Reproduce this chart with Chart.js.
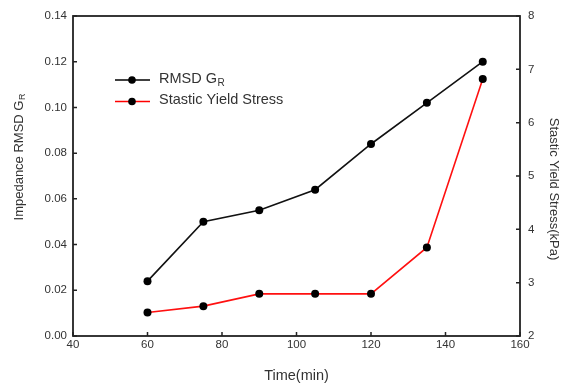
<!DOCTYPE html>
<html>
<head>
<meta charset="utf-8">
<script src="https://cdn.jsdelivr.net/npm/chart.js@4"></script>
<style>
  html, body { margin: 0; padding: 0; background: #fff; }
  #wrap { width: 565px; height: 385px; }
</style>
</head>
<body>
<div id="wrap"><canvas id="chart"></canvas></div>
<script>
// measurements, time in minutes
const times = [60, 75, 90, 105, 120, 135, 150];
const rmsdGR = [0.024, 0.050, 0.055, 0.064, 0.084, 0.102, 0.120];
const yieldStress = [2.44, 2.56, 2.79, 2.79, 2.79, 3.66, 6.82];

const FONT = '"Liberation Sans", Arial, sans-serif';
const TEXT = '#333';

const toPoints = (xs, ys) => xs.map((x, i) => ({ x, y: ys[i] }));

// box frame with short inward ticks on left, right and bottom
const framePlugin = {
  id: 'frame',
  afterDatasetsDraw(chart) {
    const { ctx, chartArea: a, scales } = chart;
    ctx.save();
    ctx.strokeStyle = '#222';
    ctx.lineWidth = 1.8;
    ctx.strokeRect(a.left, a.top, a.right - a.left, a.bottom - a.top);
    ctx.lineWidth = 1.5;
    ctx.beginPath();
    scales.x.ticks.forEach(t => {
      const px = scales.x.getPixelForValue(t.value);
      ctx.moveTo(px, a.bottom); ctx.lineTo(px, a.bottom - 4);
    });
    scales.y.ticks.forEach(t => {
      const py = scales.y.getPixelForValue(t.value);
      ctx.moveTo(a.left, py); ctx.lineTo(a.left + 4, py);
    });
    scales.y1.ticks.forEach(t => {
      const py = scales.y1.getPixelForValue(t.value);
      ctx.moveTo(a.right, py); ctx.lineTo(a.right - 4, py);
    });
    ctx.stroke();
    ctx.restore();
  }
};

// axis titles and legend (need subscripts, so drawn by hand)
function drawSub(ctx, main, sub, x, y, size) {
  ctx.font = size + 'px ' + FONT;
  ctx.fillText(main, x, y);
  const w = ctx.measureText(main).width;
  ctx.font = Math.round(size * 0.7) + 'px ' + FONT;
  ctx.fillText(sub, x + w + 0.5, y + size * 0.3);
}

const labelsPlugin = {
  id: 'labels',
  afterDraw(chart) {
    const { ctx, chartArea: a } = chart;
    ctx.save();
    ctx.fillStyle = TEXT;
    ctx.textBaseline = 'middle';

    // x title
    ctx.textAlign = 'center';
    ctx.font = '14.5px ' + FONT;
    ctx.fillText('Time(min)', (a.left + a.right) / 2, 376);

    // left title
    ctx.textAlign = 'left';
    ctx.save();
    ctx.translate(19, 157);
    ctx.rotate(-Math.PI / 2);
    ctx.font = '13px ' + FONT;
    const lw = ctx.measureText('Impedance RMSD G').width + 7;
    drawSub(ctx, 'Impedance RMSD G', 'R', -lw / 2, 0, 13);
    ctx.restore();

    // right title
    ctx.save();
    ctx.translate(554, 189);
    ctx.rotate(Math.PI / 2);
    ctx.textAlign = 'center';
    ctx.font = '13px ' + FONT;
    ctx.fillText('Stastic Yield Stress(kPa)', 0, 0);
    ctx.restore();

    // legend
    const rows = [
      { color: '#000', y: 80, main: 'RMSD G', sub: 'R' },
      { color: '#ff0000', y: 101.5, main: 'Stastic Yield Stress', sub: '' }
    ];
    rows.forEach(r => {
      ctx.strokeStyle = r.color;
      ctx.lineWidth = 1.6;
      ctx.beginPath();
      ctx.moveTo(115, r.y); ctx.lineTo(150, r.y);
      ctx.stroke();
      ctx.fillStyle = '#000';
      ctx.beginPath();
      ctx.arc(132, r.y, 3.8, 0, Math.PI * 2);
      ctx.fill();
      ctx.fillStyle = TEXT;
      ctx.textAlign = 'left';
      drawSub(ctx, r.main, r.sub, 159, r.y - 1.5, 14.5);
    });
    ctx.restore();
  }
};

const tickFont = { family: FONT, size: 11.5 };

new Chart(document.getElementById('chart'), {
  type: 'scatter',
  data: {
    datasets: [
      {
        label: 'RMSD GR', data: toPoints(times, rmsdGR), yAxisID: 'y',
        showLine: true, borderColor: '#111', borderWidth: 1.6,
        pointRadius: 4, pointBackgroundColor: '#000', pointBorderColor: '#000', pointBorderWidth: 0
      },
      {
        label: 'Stastic Yield Stress', data: toPoints(times, yieldStress), yAxisID: 'y1',
        showLine: true, borderColor: '#ff1010', borderWidth: 1.6,
        pointRadius: 4, pointBackgroundColor: '#000', pointBorderColor: '#000', pointBorderWidth: 0
      }
    ]
  },
  options: {
    responsive: true, maintainAspectRatio: false, animation: false,
    layout: { padding: { top: 16, left: 0, right: 0, bottom: 0 } },
    plugins: { legend: { display: false }, tooltip: { enabled: false } },
    scales: {
      x: {
        type: 'linear', min: 40, max: 160,
        ticks: { stepSize: 20, color: TEXT, font: tickFont, padding: 2, maxRotation: 0 },
        grid: { display: false, drawTicks: false }, border: { display: false },
        afterFit: s => { s.height = 49; }
      },
      y: {
        position: 'left', min: 0, max: 0.14,
        ticks: { stepSize: 0.02, color: TEXT, font: tickFont, padding: 6, callback: v => v.toFixed(2) },
        grid: { display: false, drawTicks: false }, border: { display: false },
        afterFit: s => { s.width = 73; }
      },
      y1: {
        position: 'right', min: 2, max: 8,
        ticks: { stepSize: 1, color: TEXT, font: tickFont, padding: 8 },
        grid: { display: false, drawTicks: false }, border: { display: false },
        afterFit: s => { s.width = 45; }
      }
    }
  },
  plugins: [framePlugin, labelsPlugin]
});
</script>
</body>
</html>
